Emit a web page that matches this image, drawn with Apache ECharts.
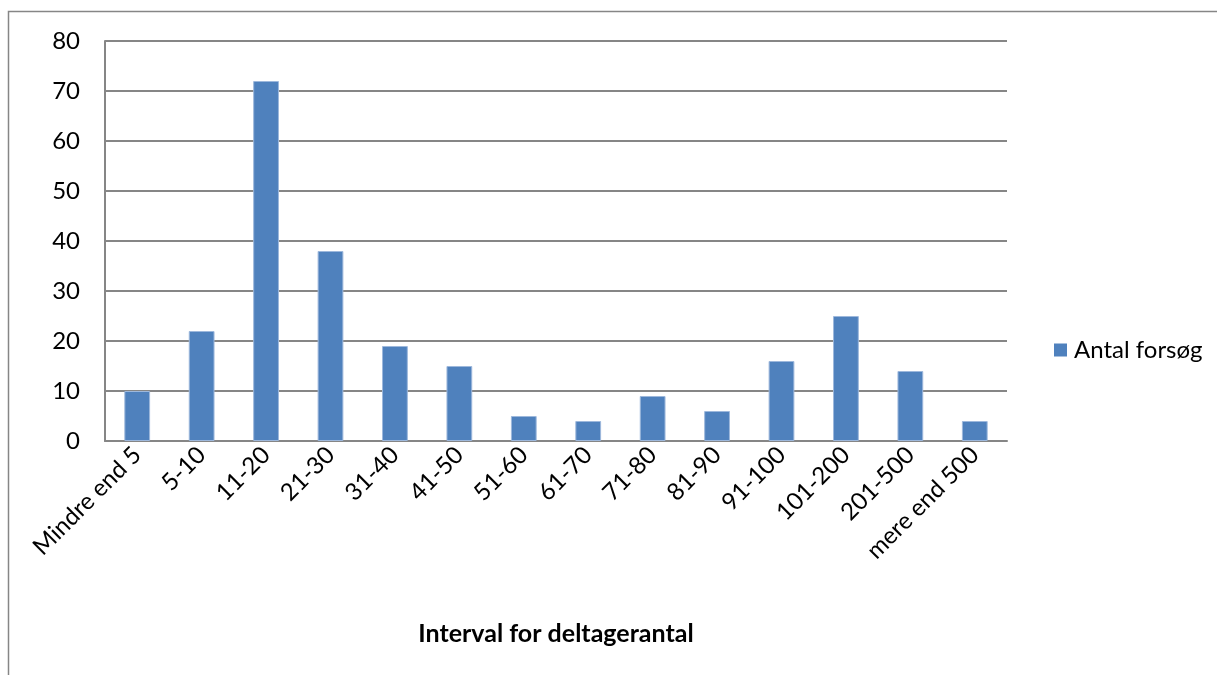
<!DOCTYPE html>
<html>
<head>
<meta charset="utf-8">
<script src="https://cdn.jsdelivr.net/npm/echarts@6/dist/echarts.min.js"></script>
<style>
  html, body { margin: 0; padding: 0; background: #fff; }
</style>
</head>
<body>
<div id="main" style="width: 1217px;height:675px;"></div>
<script>
  // data
  var categories = ['Mindre end 5', '5-10', '11-20', '21-30', '31-40', '41-50', '51-60',
    '61-70', '71-80', '81-90', '91-100', '101-200', '201-500', 'mere end 500'];
  var antalForsoeg = [10, 22, 72, 38, 19, 15, 5, 4, 9, 6, 16, 25, 14, 4];
  var seriesName = 'Antal forsøg';
  var xTitle = 'Interval for deltagerantal';

  var font = 'Lato, "Open Sans", sans-serif';
  var gray = '#868686';

  var myChart = echarts.init(document.getElementById('main'));
  var option = {
    animation: false,
    textStyle: { fontFamily: font },
    graphic: [
      {
        // outer chart frame (only left and top edges are inside the picture)
        type: 'rect',
        shape: { x: 8.5, y: 11.5, width: 1400, height: 900 },
        style: { fill: null, stroke: gray, lineWidth: 1.5 },
        silent: true
      }
    ],
    legend: {
      data: [seriesName],
      left: 1049,
      top: 333,
      icon: 'rect',
      itemWidth: 13,
      itemHeight: 13,
      itemStyle: { borderWidth: 0 },
      textStyle: { fontSize: 24, color: '#000', fontFamily: font, padding: [0, 0, 0, 2] }
    },
    grid: {
      left: 105,
      top: 41,
      right: 210,
      bottom: 234,
      containLabel: false
    },
    xAxis: {
      type: 'category',
      data: categories,
      name: xTitle,
      nameLocation: 'middle',
      nameGap: 180,
      nameTextStyle: { fontSize: 25, fontWeight: 'bold', color: '#000', fontFamily: font },
      axisLine: { lineStyle: { color: gray, width: 2 } },
      axisTick: { show: false },
      axisLabel: {
        rotate: 45,
        interval: 0,
        fontSize: 24,
        color: '#000',
        margin: 10,
        fontFamily: font
      }
    },
    yAxis: {
      type: 'value',
      min: 0,
      max: 80,
      interval: 10,
      axisLine: { show: true, lineStyle: { color: gray, width: 2 } },
      axisTick: { show: false },
      axisLabel: { fontSize: 24, color: '#000', margin: 25, fontFamily: font },
      splitLine: { lineStyle: { color: gray, width: 2 } }
    },
    series: [
      {
        name: seriesName,
        type: 'bar',
        data: antalForsoeg,
        barWidth: '40%',
        itemStyle: {
          color: '#4F81BD',
          borderColor: '#9DB8DC',
          borderWidth: 1
        }
      }
    ]
  };
  myChart.setOption(option);
</script>
</body>
</html>
